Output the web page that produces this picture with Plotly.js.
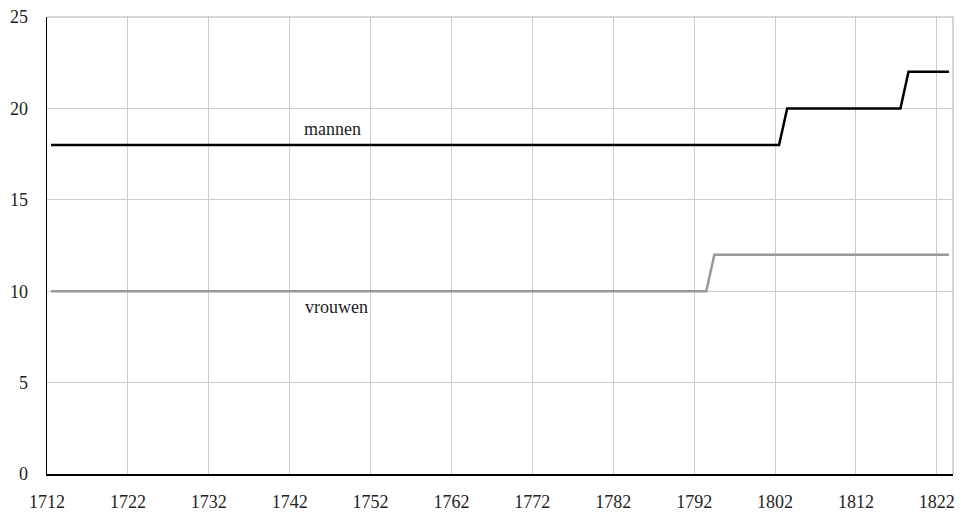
<!DOCTYPE html>
<html>
<head>
<meta charset="utf-8">
<script src="https://cdn.plot.ly/plotly-3.0.1.min.js"></script>
<style>html,body{margin:0;padding:0;background:#fff}#chart{width:966px;height:512px}</style>
</head>
<body>
<div id="chart"></div>
<script>
// Data (years where the level changes and the values there)
const mannenJaren = [1712, 1802, 1803, 1817, 1818, 1823];
const mannenWaarden = [18, 18, 20, 20, 22, 22];
const vrouwenJaren = [1712, 1793, 1794, 1823];
const vrouwenWaarden = [10, 10, 12, 12];
const tickLabels = [1712, 1722, 1732, 1742, 1752, 1762, 1772, 1782, 1792, 1802, 1812, 1822];
const yTicks = [0, 5, 10, 15, 20, 25];

const serif = 'Liberation Serif';

const traces = [
  {x: mannenJaren, y: mannenWaarden, mode: 'lines', name: 'mannen',
   line: {color: '#000000', width: 2.5}, hoverinfo: 'skip'},
  {x: vrouwenJaren, y: vrouwenWaarden, mode: 'lines', name: 'vrouwen',
   line: {color: '#999999', width: 2.5}, hoverinfo: 'skip'}
];

const layout = {
  width: 966, height: 512,
  margin: {l: 47, r: 13, t: 17, b: 38},
  paper_bgcolor: '#ffffff', plot_bgcolor: '#ffffff',
  showlegend: false,
  font: {family: serif, size: 18, color: '#222222'},
  xaxis: {
    range: [1711.5, 1823.5],
    tickmode: 'array',
    tickvals: tickLabels.map(v => v - 0.5),
    ticktext: tickLabels.map(String),
    showgrid: true, gridcolor: '#cccccc', gridwidth: 1,
    zeroline: false,
    showline: true, linecolor: '#000000', linewidth: 1.5,
    mirror: false, ticks: '', ticklen: 0,
    tickfont: {family: serif, size: 18, color: '#222222'},
    ticklabelstandoff: 11
  },
  yaxis: {
    range: [0, 25],
    tickmode: 'array', tickvals: yTicks,
    showgrid: true, gridcolor: '#cccccc', gridwidth: 1,
    zeroline: false,
    showline: true, linecolor: '#000000', linewidth: 1.5,
    ticks: '', tickfont: {family: serif, size: 18, color: '#222222'},
    ticklabelstandoff: 14
  },
  shapes: [
    {type: 'line', xref: 'paper', yref: 'paper', x0: 0, x1: 1, y0: 1, y1: 1,
     line: {color: '#aaaaaa', width: 1}},
    {type: 'line', xref: 'paper', yref: 'paper', x0: 1, x1: 1, y0: 0, y1: 1,
     line: {color: '#aaaaaa', width: 1}}
  ],
  annotations: [
    {x: 1746.8, y: 18.9, xref: 'x', yref: 'y', text: 'mannen', showarrow: false,
     font: {family: serif, size: 18, color: '#222222'}},
    {x: 1747.3, y: 9.15, xref: 'x', yref: 'y', text: 'vrouwen', showarrow: false,
     font: {family: serif, size: 18, color: '#222222'}}
  ]
};

Plotly.newPlot('chart', traces, layout, {staticPlot: true, displayModeBar: false});
</script>
</body>
</html>
